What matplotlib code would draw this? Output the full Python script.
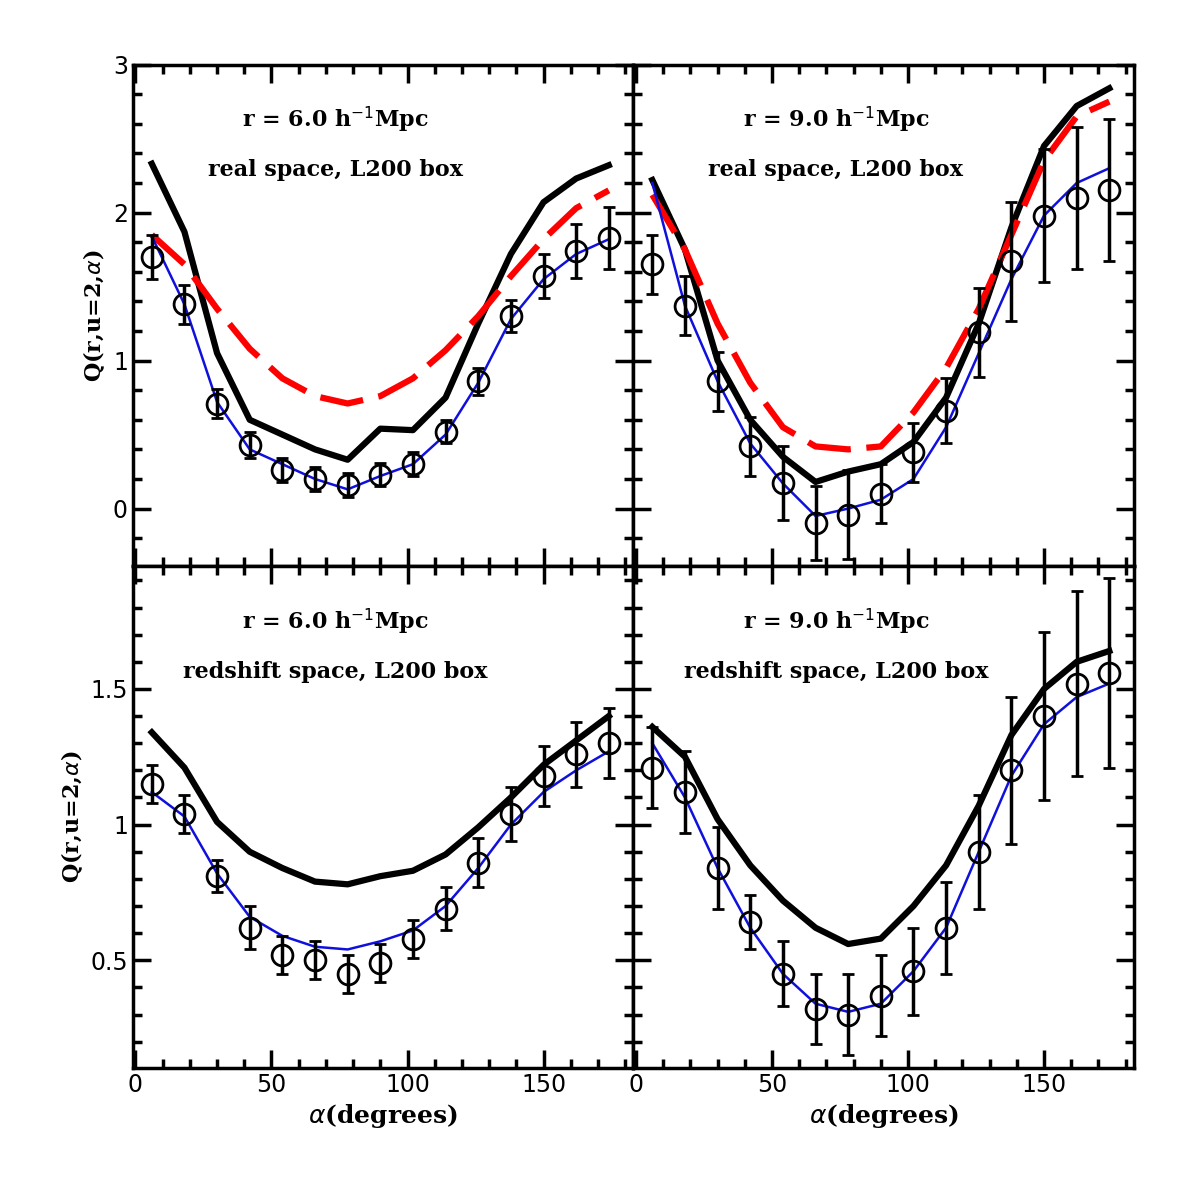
import numpy as np
import matplotlib.pyplot as plt
from matplotlib.ticker import MultipleLocator

alpha = np.arange(6, 175, 12)

# real space, r=6
tl_pts = [1.70, 1.38, 0.71, 0.43, 0.26, 0.20, 0.16, 0.23, 0.30, 0.52, 0.86, 1.30, 1.57, 1.74, 1.83]
tl_err = [0.15, 0.13, 0.10, 0.09, 0.08, 0.08, 0.08, 0.08, 0.08, 0.08, 0.09, 0.11, 0.15, 0.18, 0.21]
tl_blue = [1.84, 1.38, 0.72, 0.40, 0.30, 0.20, 0.13, 0.22, 0.30, 0.50, 0.85, 1.28, 1.55, 1.72, 1.82]
tl_black = [2.33, 1.87, 1.05, 0.60, 0.50, 0.40, 0.33, 0.54, 0.53, 0.75, 1.25, 1.72, 2.07, 2.23, 2.32]
tl_red = [1.85, 1.65, 1.35, 1.08, 0.88, 0.76, 0.71, 0.76, 0.88, 1.07, 1.30, 1.57, 1.82, 2.03, 2.15]

# real space, r=9
tr_pts = [1.65, 1.37, 0.86, 0.42, 0.17, -0.10, -0.04, 0.10, 0.38, 0.66, 1.19, 1.67, 1.98, 2.10, 2.15]
tr_err = [0.20, 0.20, 0.20, 0.20, 0.25, 0.25, 0.30, 0.20, 0.20, 0.22, 0.30, 0.40, 0.45, 0.48, 0.48]
tr_blue = [2.20, 1.37, 0.86, 0.44, 0.17, -0.05, 0.00, 0.06, 0.20, 0.55, 1.05, 1.55, 1.98, 2.20, 2.30]
tr_black = [2.22, 1.75, 1.00, 0.60, 0.35, 0.18, 0.25, 0.30, 0.45, 0.75, 1.25, 1.90, 2.45, 2.72, 2.84]
tr_red = [2.12, 1.75, 1.25, 0.85, 0.55, 0.42, 0.40, 0.42, 0.65, 0.95, 1.35, 1.85, 2.35, 2.65, 2.75]

# redshift space, r=6
bl_pts = [1.15, 1.04, 0.81, 0.62, 0.52, 0.50, 0.45, 0.49, 0.58, 0.69, 0.86, 1.04, 1.18, 1.26, 1.30]
bl_err = [0.07, 0.07, 0.06, 0.08, 0.07, 0.07, 0.07, 0.07, 0.07, 0.08, 0.09, 0.10, 0.11, 0.12, 0.13]
bl_blue = [1.12, 1.03, 0.82, 0.66, 0.59, 0.55, 0.54, 0.57, 0.61, 0.70, 0.84, 1.00, 1.12, 1.20, 1.27]
bl_black = [1.34, 1.21, 1.01, 0.90, 0.84, 0.79, 0.78, 0.81, 0.83, 0.89, 0.99, 1.10, 1.22, 1.31, 1.40]

# redshift space, r=9
br_pts = [1.21, 1.12, 0.84, 0.64, 0.45, 0.32, 0.30, 0.37, 0.46, 0.62, 0.90, 1.20, 1.40, 1.52, 1.56]
br_err = [0.15, 0.15, 0.15, 0.10, 0.12, 0.13, 0.15, 0.15, 0.16, 0.17, 0.21, 0.27, 0.31, 0.34, 0.35]
br_blue = [1.30, 1.10, 0.84, 0.62, 0.45, 0.34, 0.31, 0.34, 0.46, 0.62, 0.90, 1.18, 1.37, 1.47, 1.52]
br_black = [1.36, 1.25, 1.02, 0.85, 0.72, 0.62, 0.56, 0.58, 0.70, 0.85, 1.07, 1.33, 1.50, 1.60, 1.64]

panels = [
    (tl_pts, tl_err, tl_blue, tl_black, tl_red, 'r = 6.0 h$^{-1}$Mpc', 'real space, L200 box'),
    (tr_pts, tr_err, tr_blue, tr_black, tr_red, 'r = 9.0 h$^{-1}$Mpc', 'real space, L200 box'),
    (bl_pts, bl_err, bl_blue, bl_black, None, 'r = 6.0 h$^{-1}$Mpc', 'redshift space, L200 box'),
    (br_pts, br_err, br_blue, br_black, None, 'r = 9.0 h$^{-1}$Mpc', 'redshift space, L200 box'),
]

fig, axes = plt.subplots(2, 2, figsize=(11.96, 11.96), dpi=100)
fig.subplots_adjust(left=0.111, right=0.948, top=0.946, bottom=0.107, hspace=0, wspace=0)

for i, (ax, (pts, err, blue, black, red, t1, t2)) in enumerate(zip(axes.flat, panels)):
    ax.plot(alpha, black, color='black', lw=4.5)
    if red is not None:
        ax.plot(alpha, red, color='red', lw=4.5, dashes=(7, 2.5))
    ax.plot(alpha, blue, color='#1010dd', lw=1.8)
    ax.errorbar(alpha, pts, yerr=err, fmt='o', ms=15, mfc='none', mec='black',
                mew=2, ecolor='black', elinewidth=2.5, capsize=4, capthick=2.5)
    ax.text(0.405, 0.89, t1, transform=ax.transAxes, ha='center', va='center',
            fontsize=16, fontweight='bold', family='DejaVu Serif')
    ax.text(0.405, 0.79, t2, transform=ax.transAxes, ha='center', va='center',
            fontsize=16, fontweight='bold', family='DejaVu Serif')
    ax.set_xlim(-1, 183)
    ax.xaxis.set_major_locator(MultipleLocator(50))
    ax.xaxis.set_minor_locator(MultipleLocator(10))
    if i < 2:
        ax.set_ylim(-0.39, 3.0)
        ax.yaxis.set_major_locator(MultipleLocator(1))
        ax.yaxis.set_minor_locator(MultipleLocator(0.2))
        ax.tick_params(labelbottom=False)
    else:
        ax.set_ylim(0.103, 1.952)
        ax.yaxis.set_major_locator(MultipleLocator(0.5))
        ax.yaxis.set_minor_locator(MultipleLocator(0.1))
        ax.set_yticks([0.5, 1.0, 1.5], ['0.5', '1', '1.5'])
        ax.set_xlabel(r'$\alpha$(degrees)', fontsize=18, fontweight='bold', family='DejaVu Serif')
    if i % 2 == 1:
        ax.tick_params(labelleft=False)
    else:
        ax.set_ylabel(r'Q(r,u=2,$\alpha$)', fontsize=16, fontweight='bold', family='DejaVu Serif')
    ax.tick_params(which='both', direction='in', top=True, right=True, width=2.5, labelsize=17)
    ax.tick_params(which='major', length=13)
    ax.tick_params(which='minor', length=6.5)
    for s in ax.spines.values():
        s.set_linewidth(2.5)

axes[0, 0].set_yticks([0, 1, 2, 3], ['0', '1', '2', '3'])
axes[0, 1].set_yticks([0, 1, 2, 3])

fig.savefig('out.png', dpi=100)
